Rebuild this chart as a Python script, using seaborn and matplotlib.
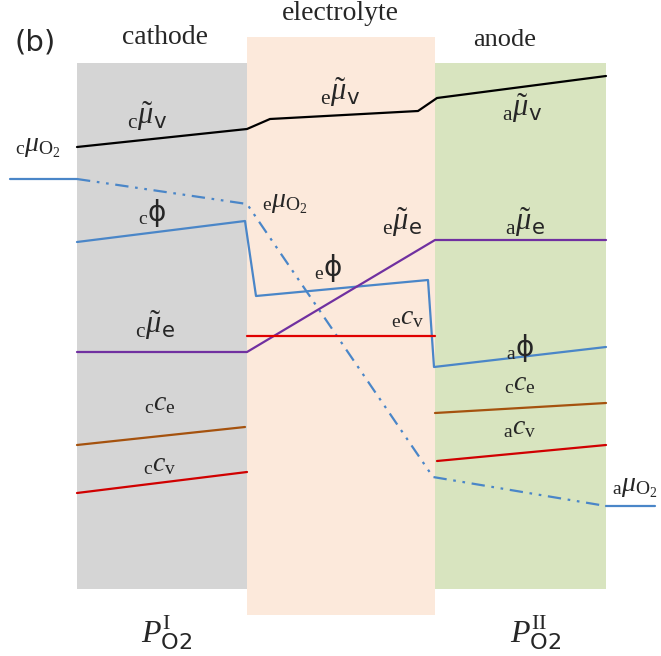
import matplotlib
matplotlib.use("Agg")
import matplotlib.pyplot as plt
import seaborn as sns

sns.set_style("white")
plt.rcParams["font.family"] = ["Liberation Serif", "DejaVu Serif"]
plt.rcParams["mathtext.fontset"] = "custom"
plt.rcParams["mathtext.rm"] = "Liberation Serif"
plt.rcParams["mathtext.it"] = "Liberation Serif:italic"
plt.rcParams["mathtext.bf"] = "Liberation Serif:bold"
plt.rcParams["mathtext.sf"] = "DejaVu Sans"
plt.rcParams["mathtext.fallback"] = "stix"

# Layer extents (x from, x to, y top, y bottom) in diagram units
layer_names = ["cathode", "electrolyte", "anode"]
layer_x0 = [77, 247, 435]
layer_x1 = [247, 435, 606]
layer_top = [63, 37, 63]
layer_bot = [589, 615, 589]
layer_colors = ["#d5d5d5", "#fce9db", "#d8e4bf"]

# Potential / concentration profiles across the cell
mu_v_x = [77, 247, 270, 418, 437, 606]
mu_v_y = [147, 129, 119, 111, 98, 76]

mu_o2_gas_c_x = [10, 77]
mu_o2_gas_c_y = [179, 179]
mu_o2_x = [77, 247, 433, 606]
mu_o2_y = [179, 204, 477, 506]
mu_o2_gas_a_x = [606, 655]
mu_o2_gas_a_y = [506, 506]

phi_x = [77, 245, 256, 428, 434, 606]
phi_y = [242, 221, 296, 280, 367, 347]

mu_e_x = [77, 247, 435, 606]
mu_e_y = [352, 352, 240, 240]

e_cv_x = [247, 435]
e_cv_y = [336, 336]

c_ce_x = [77, 245]
c_ce_y = [445, 427]
a_ce_x = [435, 606]
a_ce_y = [413, 403]

c_cv_x = [77, 247]
c_cv_y = [493, 472]
a_cv_x = [437, 606]
a_cv_y = [461, 445]

fig = plt.figure(figsize=(6.61, 6.56), dpi=100)
ax = fig.add_axes([0, 0, 1, 1])
ax.set_xlim(0, 661)
ax.set_ylim(656, 0)
ax.axis("off")

for x0, x1, t, b, c in zip(layer_x0, layer_x1, layer_top, layer_bot, layer_colors):
    ax.fill_between([x0, x1], [t, t], [b, b], color=c, lw=0, zorder=0)

blue = "#4a86c8"
lw = 1.6


def profile(x, y, color, dashes=None):
    sns.lineplot(x=x, y=y, ax=ax, color=color, lw=lw, sort=False,
                 estimator=None, zorder=3)
    if dashes is not None:
        ax.lines[-1].set_dashes(dashes)


profile(mu_v_x, mu_v_y, "black")
profile(mu_o2_gas_c_x, mu_o2_gas_c_y, blue)
profile(mu_o2_x, mu_o2_y, blue, dashes=(6, 3, 1.2, 3, 1.2, 3))
profile(mu_o2_gas_a_x, mu_o2_gas_a_y, blue)
profile(phi_x, phi_y, blue)
profile(mu_e_x, mu_e_y, "#7030a0")
profile(e_cv_x, e_cv_y, "#e00000")
profile(c_ce_x, c_ce_y, "#a5520e")
profile(a_ce_x, a_ce_y, "#a5520e")
profile(c_cv_x, c_cv_y, "#d00000")
profile(a_cv_x, a_cv_y, "#d00000")

# Region titles
ax.text(35, 42, "(b)", fontsize=21, family="DejaVu Sans", ha="center", va="center")
ax.text(165, 38, "cathode", fontsize=20, ha="center", va="center")
ax.text(340, 14, "electrolyte", fontsize=20, ha="center", va="center")
ax.text(505, 40, "anode", fontsize=19, ha="center", va="center")

# Electrochemical potentials (tilde mu), drawn a little larger
mu_labels = [
    (147, 116, r"$\mathrm{_c}\tilde{\mu}_{\mathsf{v}}$"),
    (340, 92, r"$\mathrm{_e}\tilde{\mu}_{\mathsf{v}}$"),
    (522, 108, r"$\mathrm{_a}\tilde{\mu}_{\mathsf{v}}$"),
    (525, 222, r"$\mathrm{_a}\tilde{\mu}_{\mathsf{e}}$"),
    (402, 222, r"$\mathrm{_e}\tilde{\mu}_{\mathsf{e}}$"),
    (155, 325, r"$\mathrm{_c}\tilde{\mu}_{\mathsf{e}}$"),
]
for x, y, s in mu_labels:
    ax.text(x, y, s, fontsize=22, ha="center", va="center", zorder=4)

labels = [
    (38, 148, r"$\mathrm{_c}\mu_{\mathrm{O_2}}$"),
    (285, 204, r"$\mathrm{_e}\mu_{\mathrm{O_2}}$"),
    (152, 213, r"$\mathrm{_c}\mathsf{ϕ}$"),
    (328, 268, r"$\mathrm{_e}\mathsf{ϕ}$"),
    (408, 318, r"$\mathrm{_e}c_{\mathrm{v}}$"),
    (520, 348, r"$\mathrm{_a}\mathsf{ϕ}$"),
    (160, 404, r"$\mathrm{_c}c_{\mathrm{e}}$"),
    (520, 384, r"$\mathrm{_c}c_{\mathrm{e}}$"),
    (520, 428, r"$\mathrm{_a}c_{\mathrm{v}}$"),
    (160, 465, r"$\mathrm{_c}c_{\mathrm{v}}$"),
    (635, 488, r"$\mathrm{_a}\mu_{\mathrm{O_2}}$"),
]
for x, y, s in labels:
    ax.text(x, y, s, fontsize=20, ha="center", va="center", zorder=4)

ax.text(167, 633, r"$P_{\mathsf{O2}}^{\mathrm{I}}$", fontsize=23, ha="center", va="center")
ax.text(536, 633, r"$P_{\mathsf{O2}}^{\mathrm{II}}$", fontsize=23, ha="center", va="center")

fig.savefig("out.png", dpi=100)
